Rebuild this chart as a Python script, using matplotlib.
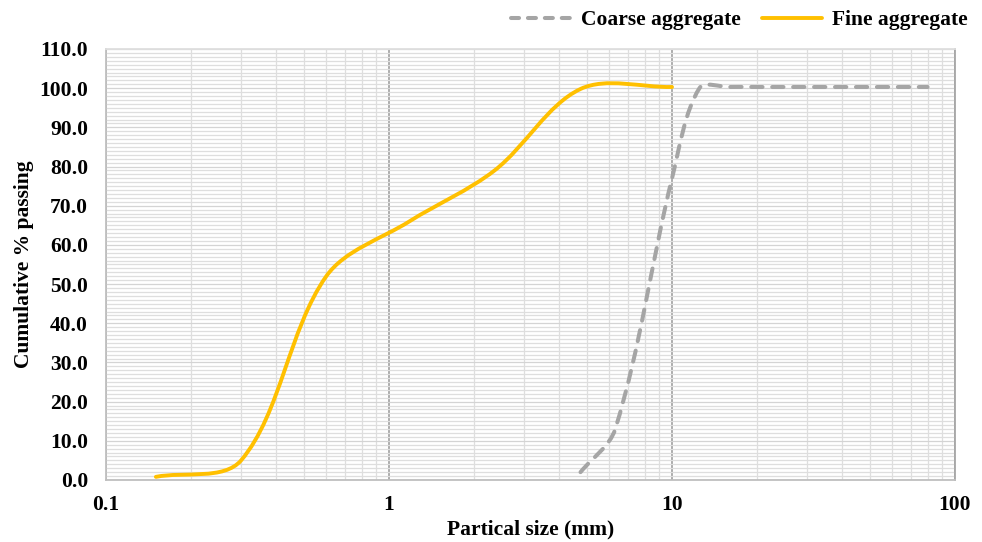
import numpy as np
import matplotlib
matplotlib.use("Agg")
import matplotlib.pyplot as plt
from matplotlib.path import Path
from matplotlib.patches import PathPatch
from matplotlib.lines import Line2D
from matplotlib.ticker import FixedLocator, MultipleLocator, FuncFormatter, LogLocator

plt.rcParams['font.family'] = ['Liberation Serif', 'DejaVu Serif']
plt.rcParams['font.weight'] = 'bold'

# sieve sizes (mm) and cumulative % passing
fine_size = [0.15, 0.3, 0.6, 1.18, 2.36, 4.75, 10]
fine_pass = [0.8, 5.0, 52.0, 66.0, 79.0, 99.8, 100.3]

coarse_size = [4.75, 6.3, 10, 12.5, 16, 20, 25, 40, 63, 80]
coarse_pass = [2.0, 13.0, 77.0, 100.0, 100.3, 100.3, 100.3, 100.3, 100.3, 100.3]

x_ticks = [0.1, 1, 10, 100]
x_labels = ['0.1', '1', '10', '100']

FS = 15.5


def smooth_path(xs, ys, sx, sy, tension=1 / 6):
    # excel style smoothed line: bezier segments, handles weighted by segment length
    lx = np.log10(xs)
    ys = np.asarray(ys, float)
    n = len(lx)

    def dist(a, b):
        return np.hypot((lx[b] - lx[a]) * sx, (ys[b] - ys[a]) * sy)

    verts = [(xs[0], ys[0])]
    codes = [Path.MOVETO]
    for i in range(n - 1):
        p0 = max(i - 1, 0)
        p3 = min(i + 2, n - 1)
        d01, d12, d23 = dist(p0, i), dist(i, i + 1), dist(i + 1, p3)
        f1 = tension * 2 * d12 / (d01 + d12) if d01 > 0 else 1 / 3
        f2 = tension * 2 * d12 / (d12 + d23) if d23 > 0 else 1 / 3
        if i == 0:
            c1x, c1y = lx[i] + (lx[i + 1] - lx[i]) * f1, ys[i] + (ys[i + 1] - ys[i]) * f1
        else:
            c1x, c1y = lx[i] + (lx[i + 1] - lx[p0]) * f1, ys[i] + (ys[i + 1] - ys[p0]) * f1
        if i + 1 == n - 1:
            c2x, c2y = lx[i + 1] - (lx[i + 1] - lx[i]) * f2, ys[i + 1] - (ys[i + 1] - ys[i]) * f2
        else:
            c2x, c2y = lx[i + 1] - (lx[p3] - lx[i]) * f2, ys[i + 1] - (ys[p3] - ys[i]) * f2
        verts += [(10 ** c1x, c1y), (10 ** c2x, c2y), (xs[i + 1], ys[i + 1])]
        codes += [Path.CURVE4] * 3
    return Path(verts, codes)


fig = plt.figure(figsize=(9.82, 5.42), dpi=100)
ax = fig.add_axes([0.108, 0.1144, 0.8645, 0.7952])
ax.set_xscale('log')
ax.set_xlim(0.1, 100)
ax.set_ylim(0, 110)

# pixels per decade / per percent, used for the smoothing weights
px_dec = 0.8645 * 982 / 3
px_unit = 0.7952 * 542 / 110

# grid
ax.yaxis.set_major_locator(MultipleLocator(10))
ax.yaxis.set_minor_locator(MultipleLocator(1))
ax.xaxis.set_major_locator(FixedLocator(x_ticks))
ax.xaxis.set_minor_locator(LogLocator(base=10, subs=np.arange(2, 10)))
ax.grid(True, which='minor', axis='both', color='#dedede', lw=0.9)
ax.grid(True, which='major', axis='y', color='#d4d4d4', lw=0.9)
ax.grid(True, which='major', axis='x', color='#a6a6a6', lw=1.3)
ax.set_axisbelow(True)

ax.set_xticklabels(x_labels)
ax.yaxis.set_major_formatter(FuncFormatter(lambda v, p: f'{v:.1f}'))
ax.tick_params(which='both', length=0)
ax.tick_params(axis='x', pad=11, labelsize=FS)
ax.tick_params(axis='y', pad=13, labelsize=FS)

for s in ['left', 'bottom', 'top']:
    ax.spines[s].set_color('#bfbfbf')
    ax.spines[s].set_linewidth(1.3)
ax.spines['top'].set_color('#dedede')
ax.spines['right'].set_color('#a6a6a6')
ax.spines['right'].set_linewidth(1.3)

coarse_col = '#a5a5a5'
fine_col = '#ffc000'
coarse_ls = (0, (2.8, 2.4))

ax.add_patch(PathPatch(smooth_path(coarse_size, coarse_pass, px_dec, px_unit), fill=False,
                       edgecolor=coarse_col, lw=2.9, linestyle=coarse_ls,
                       capstyle='round', joinstyle='round'))
ax.add_patch(PathPatch(smooth_path(fine_size, fine_pass, px_dec, px_unit), fill=False,
                       edgecolor=fine_col, lw=2.8, capstyle='round', joinstyle='round'))

ax.set_xlabel('Partical size (mm)', fontsize=FS, fontweight='bold', labelpad=3)
ax.set_ylabel('Cumulative % passing', fontsize=FS, fontweight='bold', labelpad=4)

handles = [
    Line2D([], [], color=coarse_col, lw=2.9, linestyle=(0, (2.0, 2.2)), dash_capstyle='round'),
    Line2D([], [], color=fine_col, lw=2.8, solid_capstyle='round'),
]
fig.legend(handles, ['Coarse aggregate', 'Fine aggregate'], ncol=2, frameon=False,
           loc='center right', bbox_to_anchor=(1.005, 0.963), fontsize=FS,
           handlelength=2.8, columnspacing=1.0, handletextpad=0.45)

fig.savefig('out.png', dpi=100)
